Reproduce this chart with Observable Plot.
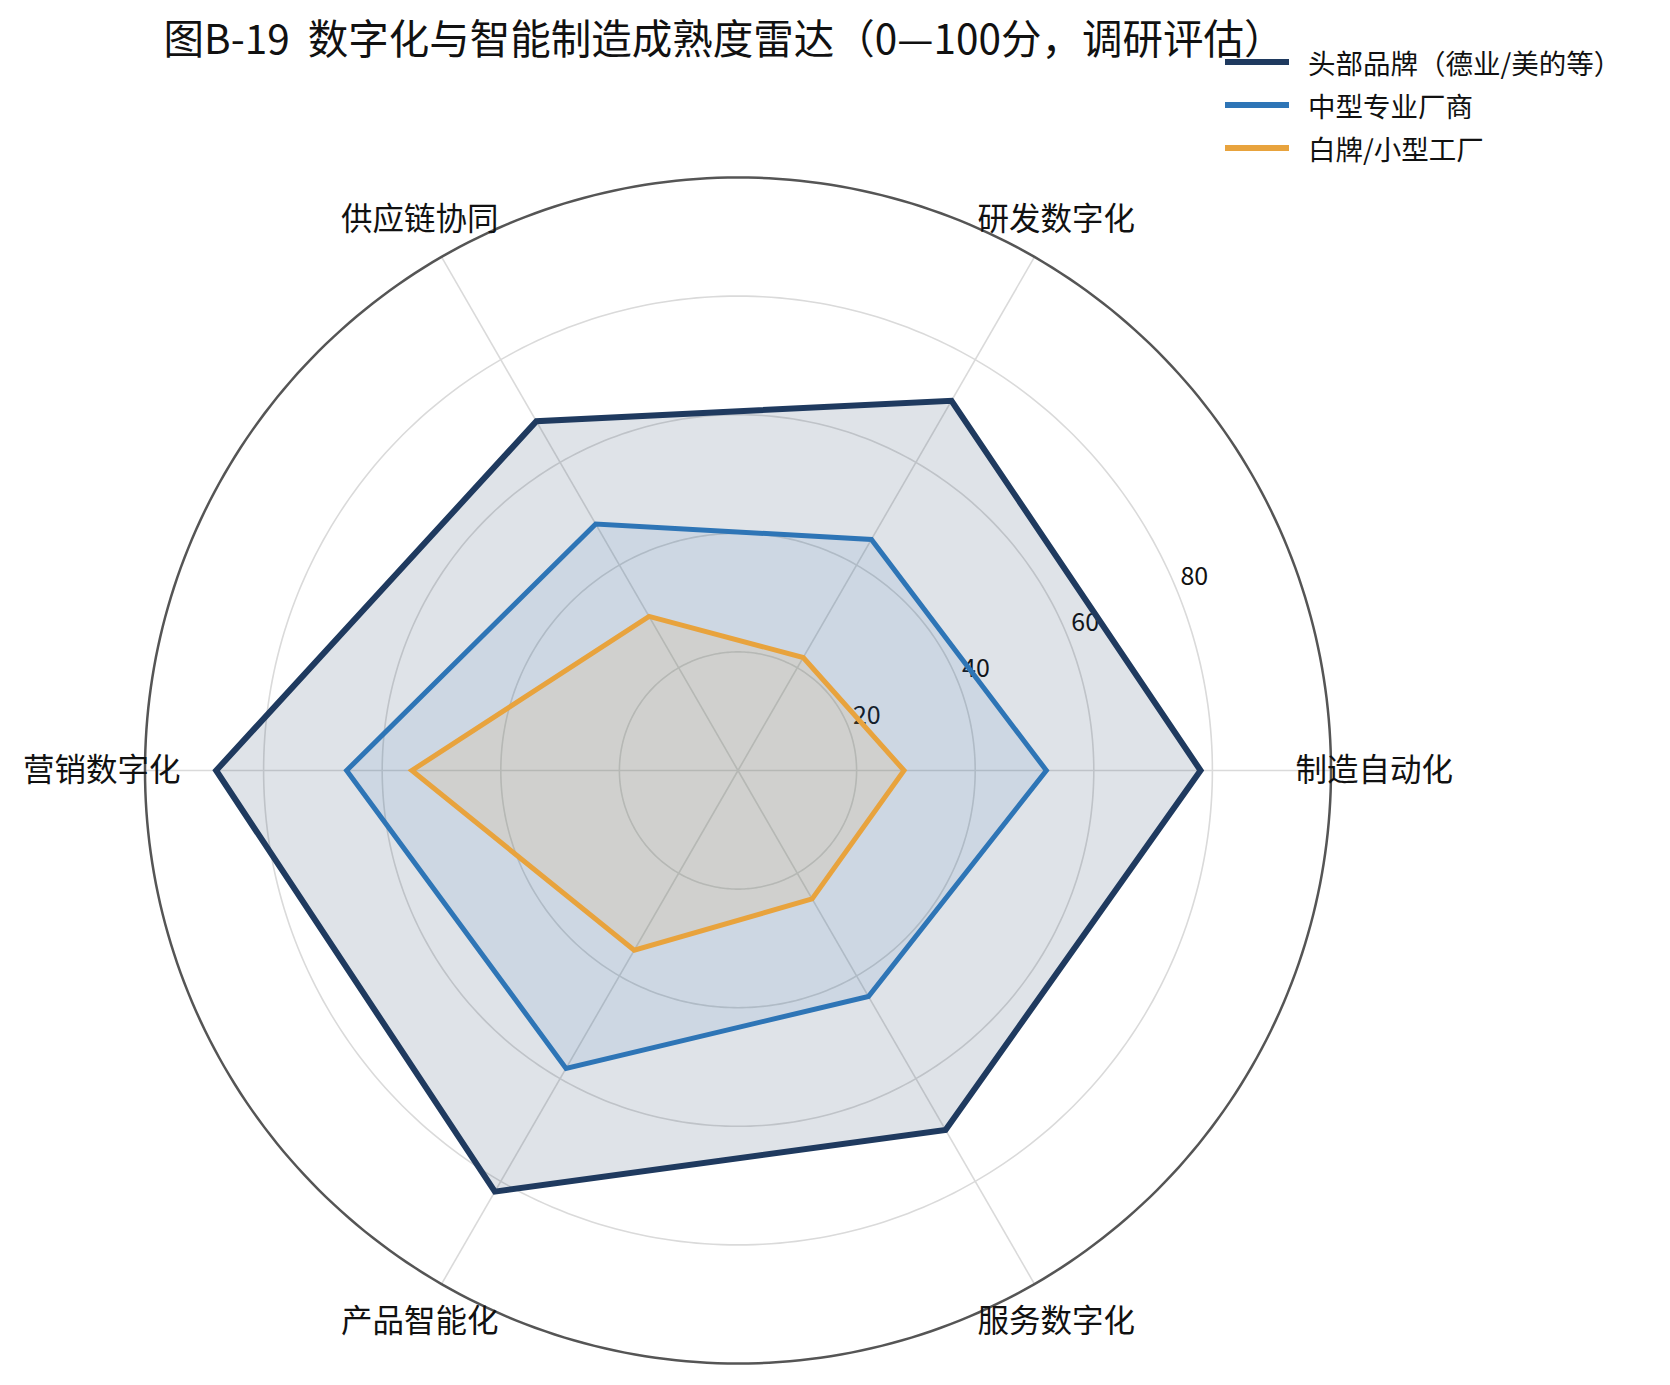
<!DOCTYPE html>
<html><head><meta charset="utf-8">
<script src="https://cdn.jsdelivr.net/npm/d3@7"></script>
<script src="https://cdn.jsdelivr.net/npm/@observablehq/plot@0.6"></script>
<style>
body{margin:0;background:#fff;font-family:"Noto Sans CJK SC","Noto Sans",sans-serif;}
#wrap{position:relative;width:1670px;height:1385px;overflow:hidden;}
#title{position:absolute;left:0;width:1448px;top:7px;text-align:center;font-size:40.5px;color:#111;white-space:pre;z-index:1;}
#legend{position:absolute;left:1225px;top:40px;z-index:2;background:rgba(255,255,255,0.0);}
.row{display:flex;align-items:center;height:43px;}
.sw{width:64px;height:6px;margin-right:19px;}
.lab{font-size:27.5px;color:#111;white-space:nowrap;}
svg{position:absolute;left:0;top:0;}
</style></head>
<body><div id="wrap"><div id="title"></div><div id="legend"></div></div>
<script>
const titleText = "图B-19  数字化与智能制造成熟度雷达（0—100分，调研评估）";
const categories = ["制造自动化","研发数字化","供应链协同","营销数字化","产品智能化","服务数字化"];
const seriesNames = ["头部品牌（德业/美的等）","中型专业厂商","白牌/小型工厂"];
const seriesColors = ["#1f3a5f","#2e75b6","#e8a33d"];
const topBrand = [78, 72, 68, 88, 82, 70];
const midMaker = [52, 45, 48, 66, 58, 44];
const smallFactory = [28, 22, 30, 55, 35, 25];
const rTicks = [20, 40, 60, 80];
const rMax = 100;

document.getElementById("title").textContent = titleText;
const leg = document.getElementById("legend");
seriesNames.forEach((n, i) => {
  const row = document.createElement("div"); row.className = "row";
  row.innerHTML = `<div class="sw" style="background:${seriesColors[i]}"></div><div class="lab">${n}</div>`;
  leg.appendChild(row);
});

const ang = i => i * Math.PI / 3;
const seriesValues = [topBrand, midMaker, smallFactory];
const polys = seriesValues.map((vals, s) => vals.map((v, i) => ({series: seriesNames[s], cat: categories[i], x: v * Math.cos(ang(i)), y: v * Math.sin(ang(i))})));

const ringPts = [];
for (const r of [...rTicks, rMax]) for (let k = 0; k < 360; k++) {
  const a = k * Math.PI / 180;
  ringPts.push({r, x: r * Math.cos(a), y: r * Math.sin(a)});
}
const innerRings = ringPts.filter(d => d.r < rMax);
const outerRing = ringPts.filter(d => d.r === rMax);
const spokes = categories.map((c, i) => ({c, x2: rMax * Math.cos(ang(i)), y2: rMax * Math.sin(ang(i))}));
const tickAng = 23 * Math.PI / 180;
const fillOps = [0.14, 0.1, 0.12];
const widths = [6, 5, 5];

const k = 5.93, cx = 737.5, cy = 770, W = 1670, H = 1385;
const polyMarks = [];
polys.forEach((p, s) => {
  polyMarks.push(Plot.line(p, {x: "x", y: "y", curve: "linear-closed", stroke: "none", fill: seriesColors[s], fillOpacity: fillOps[s]}));
  polyMarks.push(Plot.line(p, {x: "x", y: "y", curve: "linear-closed", stroke: seriesColors[s], strokeWidth: widths[s], strokeLinejoin: "miter", strokeMiterlimit: 10, fill: "none"}));
});

const chart = Plot.plot({
  width: W, height: H,
  margin: 0,
  x: {domain: [-cx / k, (W - cx) / k], axis: null},
  y: {domain: [-(H - cy) / k, cy / k], axis: null},
  style: {fontFamily: '"Noto Sans CJK SC","Noto Sans",sans-serif', background: "transparent", overflow: "visible"},
  marks: [
    Plot.line(innerRings, {x: "x", y: "y", z: "r", curve: "linear-closed", stroke: "#dadada", strokeWidth: 1.6}),
    Plot.link(spokes, {x1: 0, y1: 0, x2: "x2", y2: "y2", stroke: "#dadada", strokeWidth: 1.6}),
    Plot.line(outerRing, {x: "x", y: "y", curve: "linear-closed", stroke: "#555555", strokeWidth: 2.5}),
    Plot.text(rTicks, {x: d => (d + 3.6) * Math.cos(tickAng), y: d => (d + 3.6) * Math.sin(tickAng), text: d => String(d), fontSize: 25, fill: "#111", textAnchor: "middle"}),
    ...polyMarks,
    Plot.text(categories, {x: (d, i) => 107.3 * Math.cos(ang(i)), y: (d, i) => 107.3 * Math.sin(ang(i)), text: d => d, fontSize: 31.5, fill: "#111", textAnchor: "middle"})
  ]
});
document.getElementById("wrap").appendChild(chart);
</script>
</body></html>
